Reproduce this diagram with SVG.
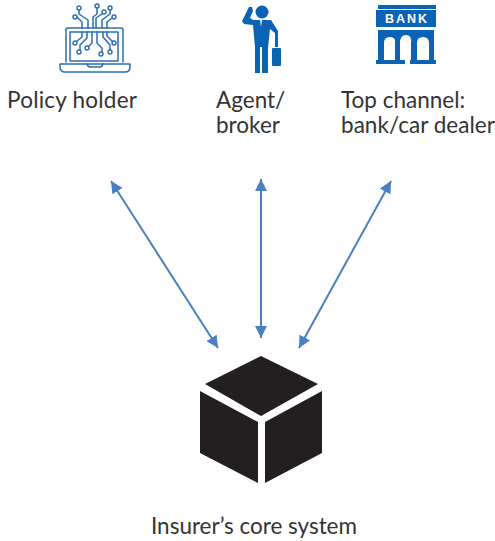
<svg xmlns="http://www.w3.org/2000/svg" width="495" height="541" viewBox="0 0 495 541">
<style>
text{font-family:"Lato","Open Sans",sans-serif;font-size:22.5px;fill:#333}
.c{fill:none;stroke:#4a7fc1;stroke-width:2;marker-start:url(#a);marker-end:url(#a)}
.l{fill:none;stroke:#2a6db5;stroke-width:1.5;stroke-linecap:round;stroke-linejoin:round}
.d{fill:#fff;stroke:#2a6db5;stroke-width:1.4}
.b{fill:#0b63b3}
</style>
<defs>
<marker id="a" viewBox="0 0 12 12" refX="12" refY="6" markerWidth="12" markerHeight="12" markerUnits="userSpaceOnUse" orient="auto-start-reverse"><path d="M0 0L12 6L0 12Z" fill="#4a7fc1"/></marker>
</defs>
<g id="connectors">
<path class="c" d="M111 181L218 348"/>
<path class="c" d="M261 179L261 338"/>
<path class="c" d="M391 181L299 348"/>
</g>
<g id="policy-holder">
<path class="l" d="M66 62V30Q66 28 68 28H121Q123 28 123 30V62"/>
<path class="l" d="M70 61V32H118V61Z"/>
<path class="l" d="M60 64H130V67Q130 72 125 72H65Q60 72 60 67Z"/>
<path class="l" d="M87 64Q88 67 90 67H100Q102 67 103 64"/>
<path class="l" d="M79 10V14L88 20V28M77 17L82 22V28M97 8V14L93 17V28M102 14L96 18V28M110 10V14L102 20V28M112 18L107 22V28"/>
<path class="l" d="M82 32V37L76 42M87 32V38L80 45V50M92 32V43L88 47M97 32V43L102 48V52M103 32V37L110 45V50M107 32V36L113 42"/>
<circle class="d" cx="79" cy="8" r="2"/><circle class="d" cx="97" cy="6" r="2"/><circle class="d" cx="110" cy="8" r="2"/><circle class="d" cx="75" cy="17" r="2"/><circle class="d" cx="104" cy="12" r="2"/><circle class="d" cx="114" cy="17" r="2"/>
<circle class="d" cx="75" cy="43" r="2"/><circle class="d" cx="79" cy="52" r="2"/><circle class="d" cx="87" cy="48" r="2"/><circle class="d" cx="101" cy="54" r="2"/><circle class="d" cx="110" cy="52" r="2"/><circle class="d" cx="114" cy="43" r="2"/>
<text x="7" y="108" textLength="130">Policy holder</text>
</g>
<g id="agent-broker">
<circle class="b" cx="262" cy="12" r="6.5"/>
<path class="b" d="M253 20H271L278 31V47H275L275 33L270 29L268 48V73H262V47H260V73H255V47L253 25L244 24L242 21L249 7L252 7L253 11L250 18Z"/>
<path d="M260 20L261 27L262 20Z" fill="#fff"/>
<rect class="b" x="272" y="48" width="9" height="18" rx="1"/>
<text x="216" y="108">Agent/</text>
<text x="216" y="133">broker</text>
</g>
<g id="top-channel">
<rect class="b" x="378" y="5" width="58" height="4"/>
<rect class="b" x="376" y="10" width="60" height="17"/>
<text x="385" y="23" style="font-size:12.5px;font-weight:700;fill:#fff;letter-spacing:2px;font-family:'Liberation Sans',sans-serif">BANK</text>
<path class="b" fill-rule="evenodd" d="M378 30H434V60H378ZM384 60V43Q384 37 390 37T395 43V60ZM400 60V43Q400 35 406 35T411 43V60ZM417 60V43Q417 37 423 37T429 43V60Z"/>
<rect class="b" x="376" y="60" width="29" height="4"/>
<rect class="b" x="410" y="60" width="26" height="4"/>
<text x="341" y="108">Top channel:</text>
<text x="341" y="133" textLength="154">bank/car dealer</text>
</g>
<g id="core-system">
<path fill="#231f20" d="M261 356L318 384L261 416L205 384Z"/>
<path fill="#231f20" d="M200 391L258 422V483L200 453Z"/>
<path fill="#231f20" d="M265 422L322 391V453L265 483Z"/>
<text x="151" y="534" textLength="206">Insurer’s core system</text>
</g>
</svg>
